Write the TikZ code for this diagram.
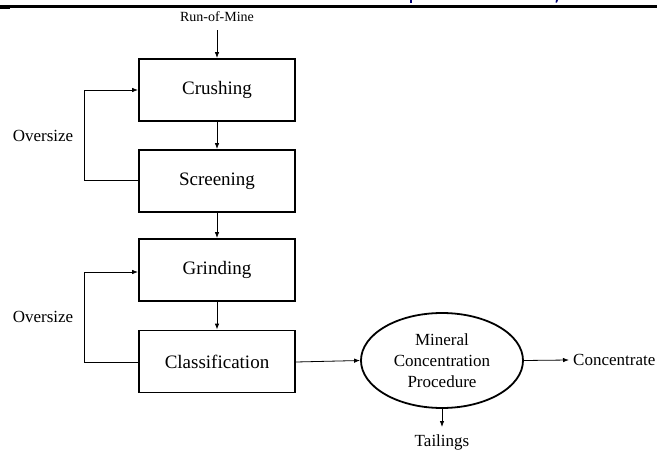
\documentclass[tikz,border=0pt]{standalone}
\usepackage{fontspec}
\setmainfont{Liberation Serif}
\usetikzlibrary{arrows.meta,shapes.geometric}
\begin{document}
\begin{tikzpicture}[x=1pt,y=-1pt,
  stepbox/.style={draw,line width=1.8pt,minimum width=156pt,minimum height=62pt,inner sep=0pt,font=\fontsize{19}{21}\selectfont},
  ovalbox/.style={ellipse,draw,line width=1.8pt,minimum width=162pt,minimum height=95pt,inner sep=0pt,align=center,font=\fontsize{17}{21}\selectfont},
  lbl/.style={inner sep=0pt,font=\fontsize{17}{20}\selectfont},
  conn/.style={line width=0.8pt,-{Latex[length=6pt,width=4.5pt]}},
  plain/.style={line width=0.8pt}]
\useasboundingbox (0,0) rectangle (657,455);
\fill[white] (0,0) rectangle (657,455);
% header rule and cut-off header fragments
\fill[black] (0,4.5) rectangle (657,7.5);
\fill[black] (0,7.5) rectangle (10,8.5);
\fill[blue!45!black] (409.5,0) rectangle (411.5,3);
\fill[blue!45!black] (556,0) -- (558,0) -- (557,2.5) -- (555.5,2.5) -- cycle;
% nodes
\node[lbl,font=\fontsize{14}{17}\selectfont] (rom) at (217,17) {Run-of-Mine};
\node[stepbox] (crush) at (217,90) {Crushing};
\node[stepbox] (screen) at (217,181) {Screening};
\node[stepbox] (grind) at (217,270) {Grinding};
\node[stepbox] (class) at (217,361.5) {Classification};
\node[ovalbox] (mcp) at (442,360.5) {Mineral\\Concentration\\Procedure};
\node[lbl,anchor=west] (conc) at (573,360) {Concentrate};
\node[lbl] (tail) at (442,442) {Tailings};
\node[lbl] (ov1) at (43,136) {Oversize};
\node[lbl] (ov2) at (43,317) {Oversize};
\coordinate (l1) at (84,90);
\coordinate (l2) at (84,180);
\coordinate (l3) at (84,272);
\coordinate (l4) at (84,362);
% connectors
\draw[conn] (217,30) -- (crush.north);
\draw[conn] (crush.south) -- (screen.north);
\draw[conn] (screen.south) -- (grind.north);
\draw[conn] (grind.south) -- (class.north);
\draw[conn] (screen.west |- l2) -- (l2) -- (l1) -- (crush.west |- l1);
\draw[conn] (class.west |- l4) -- (l4) -- (l3) -- (grind.west |- l3);
\draw[conn] (class.east |- l4) -- (mcp.west);
\draw[conn] (mcp.east) -- ([xshift=-4pt]conc.west);
\draw[conn] (mcp.south) -- (442,427);
\end{tikzpicture}
\end{document}
